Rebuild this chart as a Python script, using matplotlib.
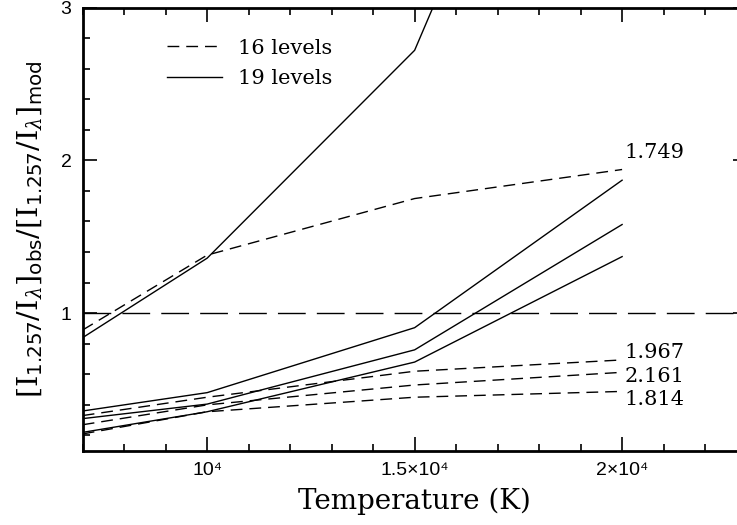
import numpy as np
import matplotlib
matplotlib.use("Agg")
import matplotlib.pyplot as plt
from matplotlib.ticker import MultipleLocator, FixedLocator
from matplotlib.lines import Line2D

plt.rcParams["mathtext.fontset"] = "dejavuserif"

temps = [7000, 10000, 15000, 20000]

# 16 level models (dashed), labelled at their right end
lev16_a = [0.89, 1.38, 1.75, 1.94]
lev16_b = [0.33, 0.45, 0.62, 0.694]
lev16_c = [0.27, 0.40, 0.53, 0.613]
lev16_d = [0.21, 0.355, 0.45, 0.488]
lev16_labels = ["1.749", "1.967", "2.161", "1.814"]

# 19 level models (solid)
lev19_a = [0.84, 1.36, 2.72, 5.9]
lev19_b = [0.36, 0.48, 0.905, 1.87]
lev19_c = [0.31, 0.405, 0.76, 1.58]
lev19_d = [0.22, 0.355, 0.68, 1.37]

xticks = [10000, 15000, 20000]
xtick_labels = ["10⁴", "1.5×10⁴", "2×10⁴"]
yticks = [1, 2, 3]

fg = plt.figure(figsize=(7.37, 5.25), dpi=100)
# axes run past the right edge of the picture, as in the original
ax = fg.add_axes([0.1122, 0.1415, 0.9008, 0.8442])

serif = ["DejaVu Serif"]
sans = ["Liberation Sans", "DejaVu Sans"]

dash_short = (8.5, 5)
for ys in [lev16_a, lev16_b, lev16_c, lev16_d]:
    ax.plot(temps, ys, c="k", lw=1.0, dashes=dash_short)
for ys in [lev19_a, lev19_b, lev19_c, lev19_d]:
    ax.plot(temps, ys, c="k", lw=1.0)

ax.axhline(1, c="k", lw=1.0, dashes=(20, 8))

offsets = [(2, 12), (2, 5.5), (2, -3), (2, -5.5)]
for ys, lab, off in zip([lev16_a, lev16_b, lev16_c, lev16_d], lev16_labels, offsets):
    ax.annotate(
        lab,
        xy=(temps[-1], ys[-1]),
        xytext=off,
        textcoords="offset points",
        ha="left",
        va="center",
        fontsize=15,
        family=serif,
    )

handles = [
    Line2D([0], [0], c="k", lw=1.0, dashes=dash_short, label="16 levels"),
    Line2D([0], [0], c="k", lw=1.0, label="19 levels"),
]
ax.legend(
    handles=handles,
    loc="upper left",
    bbox_to_anchor=(0.127, 0.93),
    frameon=False,
    borderpad=0,
    borderaxespad=0,
    handlelength=2.65,
    handletextpad=0.75,
    labelspacing=0.55,
    prop={"family": serif, "size": 15},
)

# ------------------------------
# Aesthetics
ax.set_xlim(7000, 23000)
ax.set_ylim(0.1, 3)
ax.xaxis.set_major_locator(FixedLocator(xticks))
ax.set_xticklabels(xtick_labels, family=sans)
ax.xaxis.set_minor_locator(MultipleLocator(1000))
ax.yaxis.set_major_locator(FixedLocator(yticks))
ax.set_yticklabels([str(v) for v in yticks], family=sans)
ax.yaxis.set_minor_locator(MultipleLocator(0.2))

ax.tick_params(which="both", direction="in", top=True, right=True, width=1.2)
ax.tick_params(which="major", length=10, labelsize=14, pad=8)
ax.tick_params(which="minor", length=5)
for sp in ax.spines.values():
    sp.set_linewidth(2)

ax.set_xlabel("Temperature (K)", fontsize=20, family=serif, labelpad=6)
ax.set_ylabel(
    r"$[\mathrm{I}_{\mathsf{1.257}}/\mathrm{I}_{\lambda}]_{\mathsf{obs}}"
    r"/[\mathrm{I}_{\mathsf{1.257}}/\mathrm{I}_{\lambda}]_{\mathsf{mod}}$",
    fontsize=20.5,
    labelpad=12,
)

fg.savefig("out.png", dpi=100)
